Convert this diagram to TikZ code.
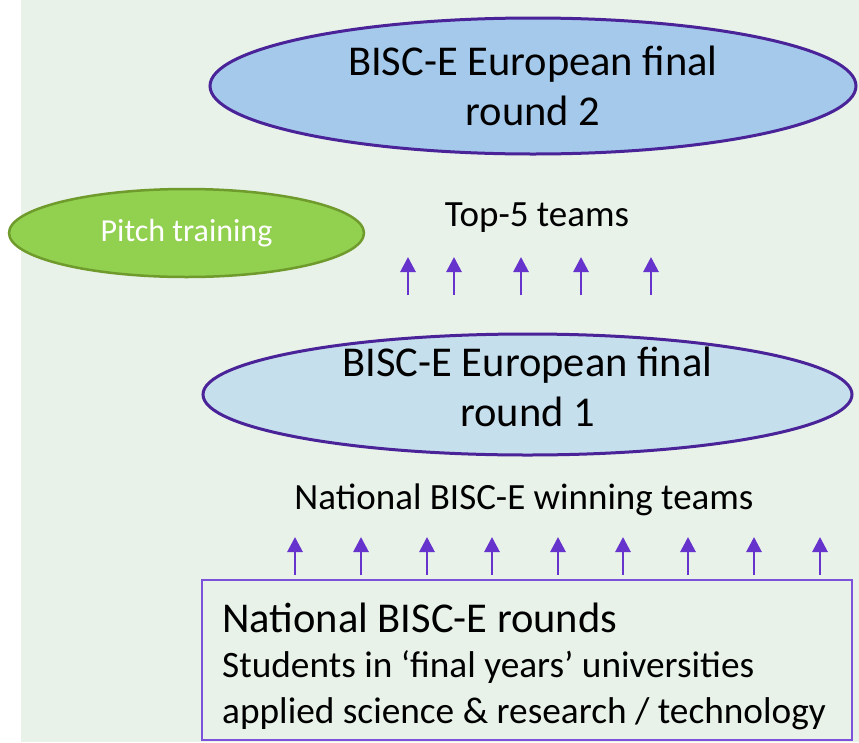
\documentclass[tikz,border=0pt]{standalone}
\usepackage{fontspec}
\setmainfont{Carlito}
\usetikzlibrary{arrows.meta,shapes.geometric}
\definecolor{bggreen}{HTML}{E8F2E9}
\definecolor{roundline}{HTML}{4A2398}
\definecolor{roundtwofill}{HTML}{A5C9EB}
\definecolor{roundonefill}{HTML}{C6DFED}
\definecolor{pitchfill}{HTML}{92D050}
\definecolor{pitchline}{HTML}{6F9A2C}
\definecolor{arrowpurple}{HTML}{6633CC}
\definecolor{boxline}{HTML}{7B52D9}
\tikzset{
  roundnode/.style={ellipse, draw=roundline, line width=3pt, inner sep=0pt},
  roundtext/.style={align=center, inner sep=0pt, font=\fontsize{42.5}{50}\selectfont},
  upflow/.style={draw=arrowpurple, line width=2.8pt,
    -{Triangle[width=15pt,length=15pt]}},
  caption/.style={font=\fontsize{37}{40}\selectfont}
}

\begin{document}
\begin{tikzpicture}[x=1pt,y=-1pt]
			%%%%% START %%%%%
			\useasboundingbox (0,0) rectangle (859,742);
			\fill[bggreen] (21,0) rectangle (859,742);
			
			\node[roundnode, fill=roundtwofill, minimum width=646pt, minimum height=136pt] (roundtwo) at (533,86) {};
			\node[roundtext] (roundtwolabel) at (roundtwo.center) {BISC-E European final\\round 2};
			\node[roundnode, fill=roundonefill, minimum width=649pt, minimum height=121pt] (roundone) at (527.5,394.5) {};
			\node[roundtext] (roundonelabel) at ([yshift=7.5pt]roundone.center) {BISC-E European final\\round 1};
			
			\node[ellipse, draw=pitchline, fill=pitchfill, line width=2.5pt, minimum width=355pt, minimum height=88pt, inner sep=0pt,
			  text=white, font=\fontsize{32}{36}\selectfont] (pitch) at (186.5,233) {Pitch training};
			
			\node[caption] (topfive) at (537,218) {Top-5 teams};
			\node[caption] (winners) at (524,500) {National BISC-E winning teams};
			
			\draw[boxline, line width=2pt] (202,580) rectangle (852,740);
			\node[anchor=west, inner sep=0pt, font=\fontsize{42.5}{48}\selectfont] (natrounds) at (222,618) {National BISC-E rounds};
			\node[anchor=west, inner sep=0pt, font=\fontsize{37.3}{42}\selectfont] (students) at (222,667) {Students in ‘final years’ universities};
			\node[anchor=west, inner sep=0pt, font=\fontsize{37.3}{42}\selectfont] (applied) at (222,714) {applied science \& research / technology};
			
			% arrows towards round 2
			\foreach \x [count=\i] in {408,454,521,581,651} {
			  \coordinate (topfoot\i) at (\x,295);
			  \coordinate (tophead\i) at (\x,257);
			  \draw[upflow] (topfoot\i) -- (tophead\i);
			}
			
			% arrows towards round 1
			\foreach \x [count=\i] in {295,361,427,492,558,623,688,754,820} {
			  \coordinate (natfoot\i) at (\x,575);
			  \coordinate (nathead\i) at (\x,537);
			  \draw[upflow] (natfoot\i) -- (nathead\i);
			}
			
			%%%%% END %%%%%
\end{tikzpicture}
\end{document}
